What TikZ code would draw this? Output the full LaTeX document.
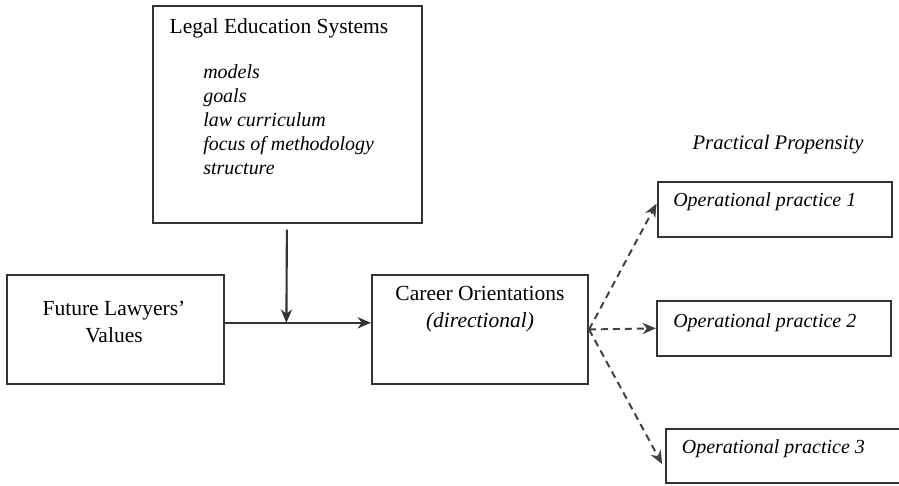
\documentclass[tikz,border=0pt]{standalone}
\usepackage{fontspec}
\setmainfont{Liberation Serif}
\usetikzlibrary{positioning}
\usetikzlibrary{arrows.meta}

\begin{document}
\begin{tikzpicture}[box/.style={draw=black!80, line width=1.5pt, inner sep=0pt},
    txt/.style={inner sep=0pt, font=\fontsize{15.3}{19.8}\selectfont},
    itm/.style={inner sep=0pt, font=\fontsize{14.2}{17.2}\selectfont\itshape},
    dsh/.style={line width=1.4pt, draw=black!75, dash pattern=on 5pt off 3.5pt},
    >={Stealth[length=9.5pt, width=8pt, inset=3pt]}]
          \useasboundingbox (0,0) rectangle (22.475,12.15);
          % Boxes
          \node[box, minimum width=6.725cm, minimum height=5.425cm] (les) at (7.1875,9.2875) {};
          \node[box, minimum width=5.425cm, minimum height=2.725cm] (flv) at (2.8875,3.9125) {};
          \node[box, minimum width=5.4cm, minimum height=2.725cm] (co) at (12.0,3.9125) {};
          \node[box, minimum width=5.87cm, minimum height=1.36cm] (op1) at (19.375,6.91) {};
          \node[box, minimum width=5.85cm, minimum height=1.365cm] (op2) at (19.35,3.9425) {};
          \node[box, minimum width=5.875cm, minimum height=1.355cm] (op3) at (19.5875,0.7475) {};

          % Texts
          \node[txt] (lestitle) at (6.975,11.45) {Legal Education Systems};
          \node[itm, align=left, anchor=west] (leslist) at (5.075,9.16) {models\\goals\\law curriculum\\focus of methodology\\structure};
          \node[txt, align=center] (flvtext) at (2.85,4.1) {Future Lawyers’\\Values};
          \node[txt, align=center] (cotext) at (12.0,4.42) {Career Orientations\\\textit{(directional)}};
          \node[txt, font=\fontsize{14.7}{17}\selectfont\itshape] (pp) at (19.45,8.525) {Practical Propensity};
          \node[itm, anchor=west] (op1text) at (16.825,7.1) {Operational practice 1};
          \node[itm, anchor=west] (op2text) at (16.825,4.08) {Operational practice 2};
          \node[itm, anchor=west] (op3text) at (17.04,0.925) {Operational practice 3};

          % Arrows
          \coordinate (j) at (7.16,4.08);
          \draw[->, line width=1.5pt, draw=black!80, shorten <=0.14cm] (les) -- (j);
          \draw[->, line width=1.5pt, draw=black!80] (flv.east |- j) -- (co.west |- j);
          \draw[->, dsh] (co.east) -- ([yshift=0.15cm]op1.west);
          \draw[->, dsh] (co.east) -- (op2.west);
          \draw[->, dsh] (co.east) -- ([xshift=-0.07cm, yshift=-0.2cm]op3.west);
        \end{tikzpicture}
\end{document}
